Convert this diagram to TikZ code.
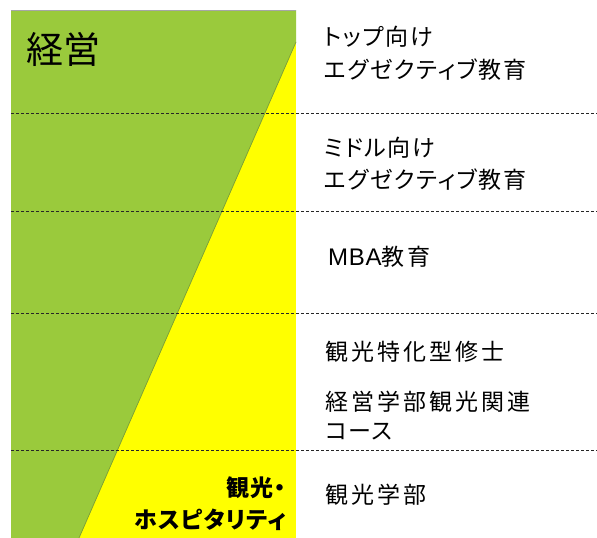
\documentclass[tikz,border=0pt]{standalone}
\usepackage{fontspec}
\newfontfamily\jp[RawFeature=+palt, LetterSpace=7]{Noto Sans CJK JP}
\newfontfamily\jpk[LetterSpace=13]{Noto Sans CJK JP}
\newfontfamily\jpb[RawFeature=+palt, LetterSpace=4]{Noto Sans CJK JP}
\newfontfamily\jpbig{Noto Sans CJK JP}
\newfontfamily\latn[LetterSpace=3]{Liberation Sans}
\definecolor{leaf}{HTML}{9ACA3C}
\definecolor{leafedge}{HTML}{7A9E35}
\definecolor{hiyel}{HTML}{FFFF00}
\tikzset{
  lbl/.style={anchor=west, inner sep=0pt, align=left, font=\jpk\fontsize{23}{32}\selectfont},
  kana/.style={anchor=west, inner sep=0pt, align=left, font=\jp\fontsize{23}{33}\selectfont},
  sep/.style={draw=black!85, line width=0.8pt, dash pattern=on 3pt off 2pt},
}
\begin{document}
\begin{tikzpicture}[x=1pt,y=-1pt]
\useasboundingbox (0,0) rectangle (597,538);
\fill[white] (0,0) rectangle (597,538);
% yellow band
\fill[hiyel] (11,10) rectangle (296,538);
% green wedge
\fill[leaf] (11,10) -- (296,10) -- (296,42) -- (79,538) -- (11,538) -- cycle;
\draw[leafedge, line width=0.7pt] (296,42) -- (79,538);
\draw[black!35, line width=0.6pt] (11,10) -- (296,10);
% separators
\foreach \y/\n in {113/a,211/b,313/c,450/d}{
  \coordinate (sl\n) at (11,\y);
  \coordinate (sr\n) at (597,\y);
  \draw[sep] (sl\n) -- (sr\n);
}
% labels
\node[anchor=west, inner sep=0pt, font=\jpbig\fontsize{37}{40}\selectfont] (keiei) at (26,49) {経営};
\node[kana] (top1) at (324,37) {トップ向け};
\node[kana] (top2) at (324,70) {エグゼクティブ教育};
\node[kana] (mid1) at (324,148) {ミドル向け};
\node[kana] (mid2) at (324,180) {エグゼクティブ教育};
\node[lbl] (mba) at (328,257) {{\latn\fontsize{24}{32}\selectfont MBA}教育};
\node[lbl] (spec) at (325,352) {観光特化型修士};
\node[lbl] (course1) at (325,402) {経営学部観光関連};
\node[kana] (course2) at (325,432) {コース};
\node[lbl] (dept) at (325,495) {観光学部};
\node[anchor=east, inner sep=0pt, align=right, font=\jpb\bfseries\fontsize{23}{32}\selectfont] (hosp) at (286,504) {観光・\\ホスピタリティ};
\end{tikzpicture}
\end{document}
